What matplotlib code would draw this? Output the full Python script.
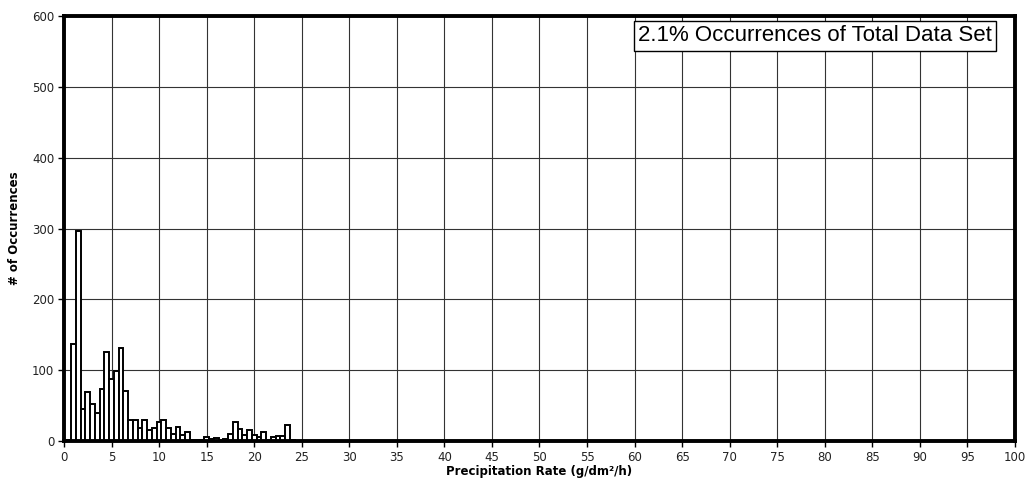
import matplotlib
matplotlib.use("Agg")
import matplotlib.pyplot as plt

rate_centers = [0.5, 1.0, 1.5, 2.0, 2.5, 3.0, 3.5, 4.0, 4.5, 5.0, 5.5, 6.0, 6.5,
                7.0, 7.5, 8.0, 8.5, 9.0, 9.5, 10.0, 10.5, 11.0, 11.5, 12.0, 12.5,
                13.0, 13.5, 14.0, 14.5, 15.0, 15.5, 16.0, 16.5, 17.0, 17.5, 18.0,
                18.5, 19.0, 19.5, 20.0, 20.5, 21.0, 21.5, 22.0, 22.5, 23.0, 23.5, 24.0]
occurrences = [2, 137, 297, 45, 69, 52, 39, 74, 125, 88, 99, 131, 71,
               30, 30, 18, 29, 16, 18, 27, 29, 19, 10, 20, 8,
               13, 2, 2, 1, 6, 3, 4, 2, 3, 10, 27,
               17, 8, 15, 8, 5, 13, 2, 6, 7, 7, 22, 1]
x_ticks = list(range(0, 101, 5))
y_ticks = list(range(0, 601, 100))
annotation = "2.1% Occurrences of Total Data Set"

fig = plt.figure(figsize=(10.34, 4.91), dpi=100)
ax = fig.add_axes([0.0619, 0.1018, 0.9197, 0.8656])

ax.bar(rate_centers, occurrences, width=0.5, facecolor="white",
       edgecolor="black", linewidth=1.4, zorder=3)

ax.set_xlim(0, 100)
ax.set_ylim(0, 600)
ax.set_xticks(x_ticks)
ax.set_yticks(y_ticks)
ax.grid(True, color="#333333", linewidth=0.8, zorder=0)
ax.set_axisbelow(True)
for s in ax.spines.values():
    s.set_linewidth(2.8)
    s.set_color("black")
    s.set_zorder(5)
ax.tick_params(axis="both", direction="out", length=4, width=1,
               labelsize=8.5, pad=3, labelcolor="#222222")

ax.set_xlabel("Precipitation Rate (g/dm²/h)", fontsize=8.5, fontweight="bold", labelpad=1)
ax.set_ylabel("# of Occurrences", fontsize=8.5, fontweight="bold", labelpad=8)

ax.text(0.9755, 0.978, annotation, transform=ax.transAxes, ha="right", va="top",
        fontsize=16, family="Liberation Sans", zorder=6,
        bbox=dict(facecolor="white", edgecolor="black", linewidth=1.0, pad=3))

fig.savefig("out.png", dpi=100)
